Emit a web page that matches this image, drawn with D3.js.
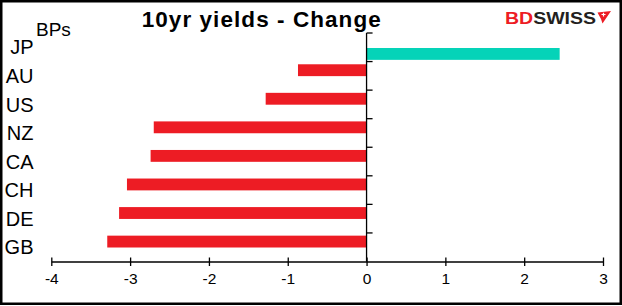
<!DOCTYPE html>
<html>
<head>
<meta charset="utf-8">
<script src="https://cdn.jsdelivr.net/npm/d3@7"></script>
<style>
html,body{margin:0;padding:0;background:#fff;}
svg{display:block;}
text{font-family:"Liberation Sans",Arial,sans-serif;}
</style>
</head>
<body>
<svg id="chart" width="622" height="306"></svg>
<script>
const categories = ["JP","AU","US","NZ","CA","CH","DE","GB"];
const values = [2.45, -0.87, -1.28, -2.70, -2.74, -3.04, -3.14, -3.29];
const xTicks = [-4,-3,-2,-1,0,1,2,3];
const title = "10yr yields - Change";
const unitLabel = "BPs";

const svg = d3.select("#chart");
svg.append("rect").attr("width",622).attr("height",306).attr("fill","#fff");

const x = d3.scaleLinear().domain([-4,3]).range([51.3,603]);
const y = d3.scaleBand().domain(categories).range([33,261.5]).padding(0);
const bw = y.bandwidth();

// bars
svg.append("g").selectAll("rect").data(categories).join("rect")
  .attr("x",(c,i)=>Math.min(x(values[i]),x(0)))
  .attr("width",(c,i)=>Math.abs(x(values[i])-x(0)))
  .attr("y",(c,i)=> values[i] >= 0 ? y(c)+bw*0.525 : y(c)+bw*0.095)
  .attr("height",bw*0.415)
  .attr("fill",(c,i)=> values[i] >= 0 ? "#05D3B8" : "#ED1C24");

// x axis
const xAxis = svg.append("g").attr("transform","translate(0,261.5)")
  .call(d3.axisBottom(x).tickValues(xTicks).tickFormat(d=>String(d)).tickSizeOuter(0));
xAxis.select(".domain").attr("stroke","#000").attr("stroke-width",1.3);
xAxis.selectAll(".tick line").attr("y1",-4).attr("y2",4.5).attr("stroke","#000").attr("stroke-width",1.3);
xAxis.selectAll(".tick text").attr("y",11).attr("dy","0.71em")
  .attr("font-size","15.5px").attr("fill","#000")
  .attr("font-family","'Liberation Sans',Arial,sans-serif");

// y axis (at zero)
const yAxisG = svg.append("g");
yAxisG.append("line").attr("x1",x(0)).attr("x2",x(0)).attr("y1",y.range()[0]).attr("y2",y.range()[1])
  .attr("stroke","#000").attr("stroke-width",1.3);
const bounds = categories.map(c=>y(c));
yAxisG.selectAll("line.yt").data(bounds).join("line").attr("class","yt")
  .attr("x1",x(0)).attr("x2",x(0)+6).attr("y1",d=>d).attr("y2",d=>d)
  .attr("stroke","#000").attr("stroke-width",1.3);

// category labels
svg.append("g").selectAll("text").data(categories).join("text")
  .attr("x",33.5).attr("y",c=>y(c)+bw/2).attr("dy","0.36em")
  .attr("text-anchor","end").attr("font-size","20px").attr("fill","#000")
  .text(c=>c);

// BPs label
svg.append("text").attr("x",36).attr("y",36).attr("font-size","19px").attr("fill","#000").text(unitLabel);

// title
svg.append("text").attr("x",141.7).attr("y",26.7).attr("font-size","22.5px").attr("font-weight","bold")
  .attr("fill","#000").attr("textLength",239).attr("lengthAdjust","spacing").text(title);

// logo
const logo = svg.append("g");
const lt = logo.append("text").attr("x",505).attr("y",24).attr("font-size","16px").attr("font-weight","bold")
  .attr("font-family","'DejaVu Sans',sans-serif").attr("textLength",91).attr("lengthAdjust","spacingAndGlyphs");
lt.append("tspan").attr("fill","#ED1C24").text("BD");
lt.append("tspan").attr("fill","#231F20").text("SWISS");
logo.append("path").attr("d","M597.5,12.5 L611,11 L602.5,23.5 L601,19 Z").attr("fill","#ED1C24");
logo.append("path").attr("d","M601.5,14.5 h4 M603.5,12.8 v3.8").attr("stroke","#fff").attr("stroke-width",1.2);

// frame
svg.append("rect").attr("x",1.25).attr("y",1.25).attr("width",619.5).attr("height",302.5)
  .attr("fill","none").attr("stroke","#000").attr("stroke-width",2.5);
</script>
</body>
</html>
